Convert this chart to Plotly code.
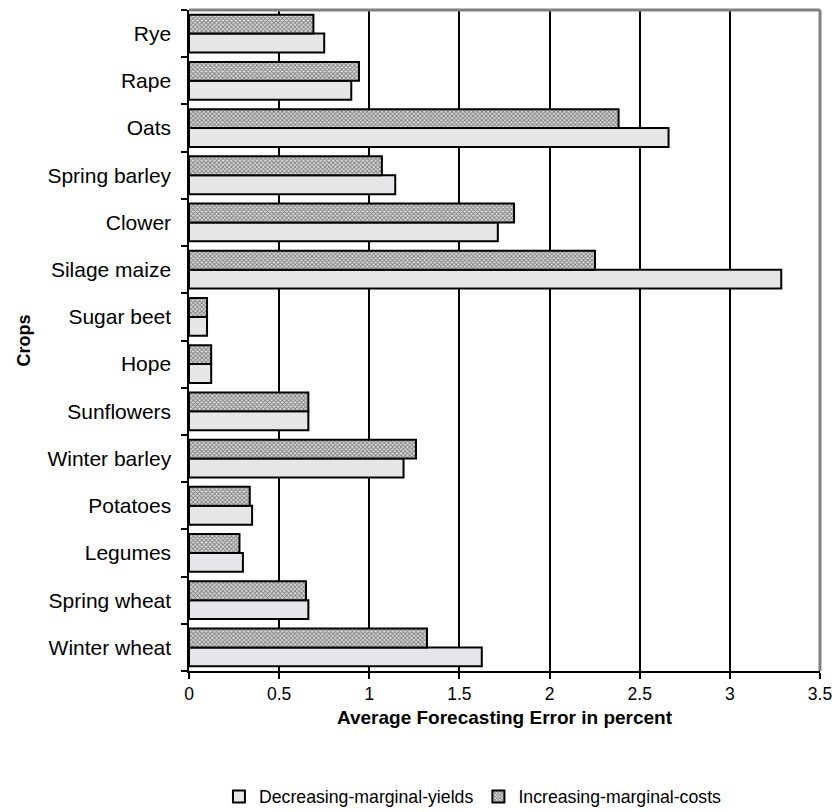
import plotly.graph_objects as go

crops = ["Rye", "Rape", "Oats", "Spring barley", "Clower", "Silage maize", "Sugar beet",
         "Hope", "Sunflowers", "Winter barley", "Potatoes", "Legumes", "Spring wheat", "Winter wheat"]
increasing_costs = [0.69, 0.943, 2.383, 1.07, 1.803, 2.252, 0.10, 0.123, 0.662, 1.259, 0.337, 0.28, 0.649, 1.32]
decreasing_yields = [0.75, 0.90, 2.66, 1.144, 1.713, 3.285, 0.10, 0.123, 0.662, 1.19, 0.35, 0.299, 0.662, 1.624]

# bottom-up order for plotly categorical axis
y_cats = crops[::-1]
inc = increasing_costs[::-1]
dec = decreasing_yields[::-1]

FONT = "Liberation Sans, Arial, sans-serif"

fig = go.Figure()
fig.add_trace(go.Bar(
    y=y_cats, x=dec, orientation="h", name="Decreasing-marginal-yields",
    marker=dict(color="#e6e6e9", line=dict(color="black", width=2)),
))
fig.add_trace(go.Bar(
    y=y_cats, x=inc, orientation="h", name="Increasing-marginal-costs",
    marker=dict(color="white", line=dict(color="black", width=2),
                pattern=dict(shape="x", size=3, solidity=0.5, fgcolor="#222222", bgcolor="#dadada")),
))

fig.update_layout(
    width=838, height=812,
    margin=dict(l=189, r=17.5, t=10, b=141, autoexpand=False),
    paper_bgcolor="white", plot_bgcolor="white",
    barmode="group", bargap=0.2, bargroupgap=0,
    font=dict(family=FONT, size=18, color="black"),
    showlegend=True,
    legend=dict(orientation="h", x=0.45, xanchor="center", yref="container", y=0.0185,
                yanchor="middle", font=dict(size=17.7), itemwidth=30, tracegroupgap=0),
    xaxis=dict(range=[0, 3.5], dtick=0.5, tick0=0, showgrid=True, gridcolor="black", gridwidth=2,
               showline=True, linecolor="black", linewidth=2, ticks="outside", ticklen=6,
               tickcolor="black", tickwidth=2, zeroline=False, tickfont=dict(size=17.5),
               title=dict(text="<b>Average Forecasting Error in percent</b>", font=dict(size=19), standoff=8)),
    yaxis=dict(showline=True, linecolor="black", linewidth=2, ticks="outside", ticklen=6,
               tickcolor="black", tickwidth=2, tickson="boundaries", showgrid=False,
               tickfont=dict(size=21),
               title=dict(text="<b>Crops</b>", font=dict(size=18), standoff=12),
               ticksuffix="  "),
    shapes=[
        dict(type="line", xref="paper", yref="paper", x0=0, x1=1, y0=1, y1=1,
             line=dict(color="#808080", width=3), layer="above"),
        dict(type="line", xref="paper", yref="paper", x0=1, x1=1, y0=0, y1=1,
             line=dict(color="#808080", width=3), layer="above"),
    ],
)

fig.write_html("out.html", config={"displayModeBar": False},
               post_script="document.body.style.margin='0';document.body.style.overflow='hidden';")
